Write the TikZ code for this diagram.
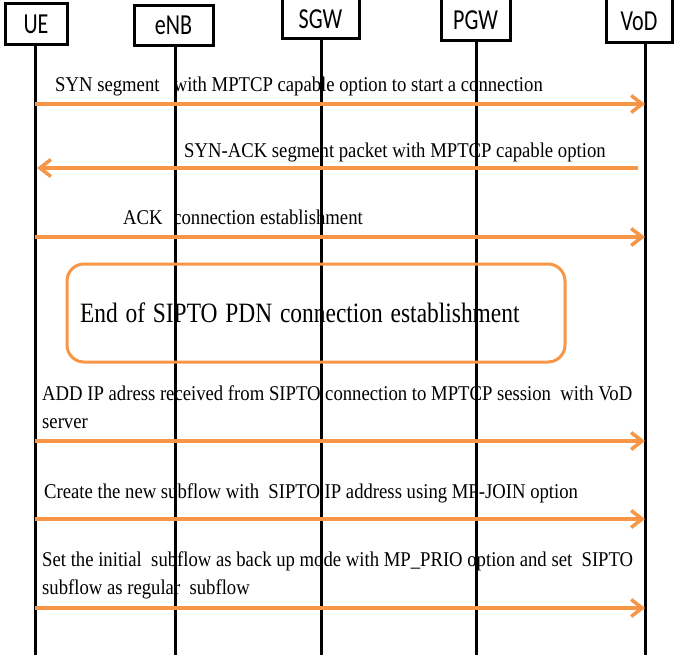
\documentclass[tikz,border=0pt]{standalone}
\usepackage{fontspec}
\usepackage{graphicx}
\setmainfont{Liberation Serif}
\newfontfamily\boxfont[FakeStretch=0.76]{Carlito}
\usetikzlibrary{arrows.meta}
\definecolor{msgorange}{HTML}{F79646}
\newcommand\msgline[1]{\scalebox{0.89}[1]{#1}}
\newcommand\bigline[1]{\scalebox{0.837}[1]{#1}}
\begin{document}
\begin{tikzpicture}[x=1pt,y=-1pt,
  actor/.style={draw=black, line width=3pt, fill=white, inner sep=0pt,
    font=\boxfont\fontsize{29}{32}\selectfont},
  life/.style={draw=black, line width=3pt},
  msg/.style={draw=msgorange, line width=3.5pt,
    -{Straight Barb[length=11pt,width=17pt,line width=3.5pt]}},
  msgtext/.style={anchor=west, inner sep=0pt, align=left,
    font=\fontsize{21}{28}\selectfont},
  endbox/.style={draw=msgorange, line width=3pt, rounded corners=17pt,
    inner xsep=13pt, inner ysep=0pt, text width=472pt, align=left,
    minimum height=98pt, font=\fontsize{28}{32}\selectfont}]
\useasboundingbox (0,0) rectangle (676,655);
% actors
\node[actor, minimum width=62pt, minimum height=41pt] (UE) at (36,24.5) {UE};
\node[actor, minimum width=79pt, minimum height=40pt] (eNB) at (173.5,25.5) {eNB};
\node[actor, minimum width=77pt, minimum height=40pt] (SGW) at (320.5,19) {SGW};
\node[actor, minimum width=69pt, minimum height=42pt] (PGW) at (475.5,20) {PGW};
\node[actor, minimum width=66pt, minimum height=44pt] (VoD) at (639,21) {VoD};
% lifeline tops and bottoms
\coordinate (lUE) at (35,45);   \coordinate (bUE) at (35,655);
\coordinate (lENB) at (175,45); \coordinate (bENB) at (175,655);
\coordinate (lSGW) at (321,40); \coordinate (bSGW) at (321,655);
\coordinate (lPGW) at (476,41); \coordinate (bPGW) at (476,655);
\coordinate (lVOD) at (645,43); \coordinate (bVOD) at (645,655);
\draw[life] (lUE) -- (bUE);
\draw[life] (lENB) -- (bENB);
\draw[life] (lSGW) -- (bSGW);
\draw[life] (lPGW) -- (bPGW);
\draw[life] (lVOD) -- (bVOD);
% end box
\node[endbox, minimum width=498pt] (endb) at (316,313) {\bigline{End of SIPTO PDN connection establishment}};
% messages
\draw[msg] (lUE |- 0,104) -- (lVOD |- 0,104);
\node[msgtext] (t1) at (55,86) {\msgline{SYN segment\hspace{16pt}with MPTCP capable option to start a connection}};
\draw[msg] ([xshift=-7pt]lVOD |- 0,168) -- ([xshift=2pt]lUE |- 0,168);
\node[msgtext] (t2) at (184,152) {\msgline{SYN-ACK segment packet with MPTCP capable option}};
\draw[msg] (lUE |- 0,237) -- (lVOD |- 0,237);
\node[msgtext] (t3) at (123,217) {\msgline{ACK\hspace{12pt}connection establishment}};
\draw[msg] (lUE |- 0,441) -- (lVOD |- 0,441);
\node[msgtext] (t4) at (42,407) {\msgline{ADD IP adress received from SIPTO connection to MPTCP session\ \ with VoD}\\\msgline{server}};
\draw[msg] (lUE |- 0,519) -- (lVOD |- 0,519);
\node[msgtext] (t5) at (44,493) {\msgline{Create the new subflow with\ \ SIPTO IP address using MP-JOIN option}};
\draw[msg] (lUE |- 0,608) -- (lVOD |- 0,608);
\node[msgtext] (t6) at (42,575) {\msgline{Set the initial\ \ subflow as back up mode with MP\_PRIO option and set\ \ SIPTO}\\\msgline{subflow as regular\ \ subflow}};
\end{tikzpicture}
\end{document}
